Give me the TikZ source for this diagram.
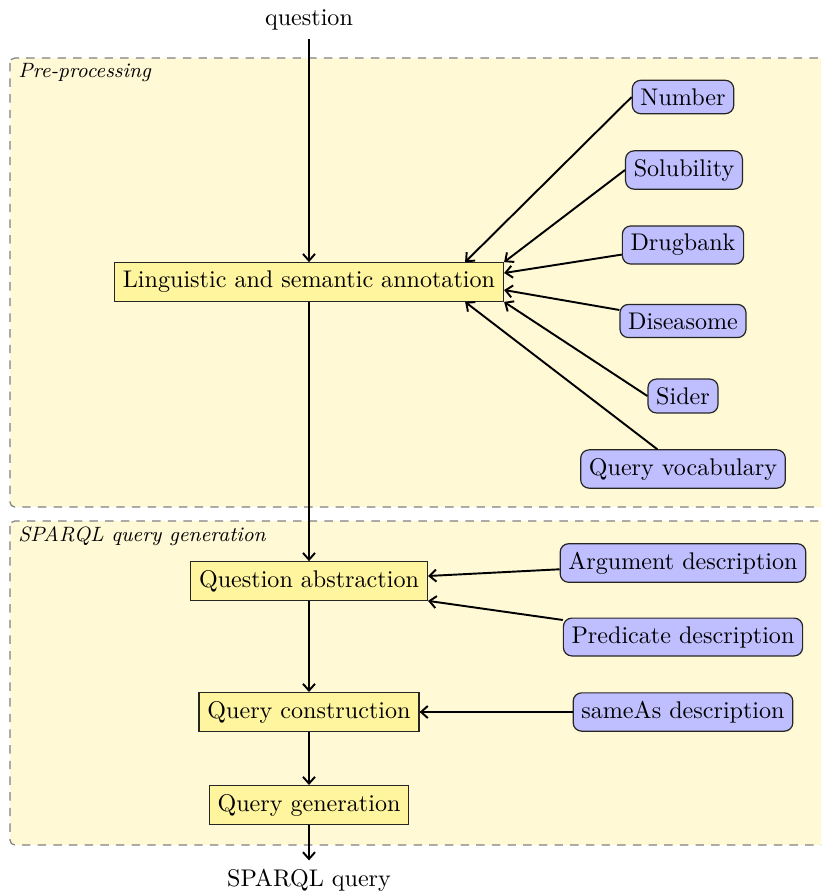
\documentclass[tikz,border=0pt]{standalone}
\usetikzlibrary{calc,arrows.meta}
\definecolor{bgyellow}{RGB}{255,249,214}
\definecolor{boxyellow}{RGB}{255,245,158}
\definecolor{boxblue}{RGB}{191,191,255}
\begin{document}
\begin{tikzpicture}[x=0.415pt,y=-0.415pt,
  proc/.style={draw=black!85, fill=boxyellow, inner sep=3.5pt, line width=0.5pt},
  res/.style={draw=black!85, fill=boxblue, rounded corners=3.5pt, inner sep=3.4pt, line width=0.5pt},
  group/.style={draw=gray, fill=bgyellow, dash pattern=on 3.5pt off 3pt, rounded corners=2pt, line width=0.5pt},
  grouplabel/.style={anchor=west, font=\fontsize{8.6}{10}\selectfont\itshape, inner sep=0pt},
  flow/.style={-{Straight Barb[length=2.8pt,width=5pt]}, thick}]
\useasboundingbox (0,0) rectangle (821,894);
\begin{scope}
  \clip (0,0) rectangle (821,894);
  \path[group] (10,58) rectangle (840,507);
  \path[group] (10,521) rectangle (840,845);
\end{scope}
\node[grouplabel] (lpre) at (18,73) {Pre-processing};
\node[grouplabel] (lsparql) at (18,536) {SPARQL query generation};

\node (question) at (309,20) {question};
\node[proc] (ling) at (309,282) {Linguistic and semantic annotation};
\node[proc] (qa) at (309,581) {Question abstraction};
\node[proc] (qc) at (309,712) {Query construction};
\node[proc] (qg) at (309,805) {Query generation};
\node (sparql) at (309,880) {SPARQL query};

\node[res] (number) at (683,97) {Number};
\node[res] (solub) at (684,170) {Solubility};
\node[res] (drug) at (683,245) {Drugbank};
\node[res] (dis) at (683,321) {Diseasome};
\node[res] (sider) at (683,396) {Sider};
\node[res] (vocab) at (683,469) {Query vocabulary};
\node[res] (arg) at (683,563) {Argument description};
\node[res] (pred) at (683,637) {Predicate description};
\node[res] (same) at (683,712) {sameAs description};

\draw[flow] (question) -- (ling);
\draw[flow] (ling) -- (qa);
\draw[flow] (qa) -- (qc);
\draw[flow] (qc) -- (qg);
\draw[flow] (qg) -- (sparql);

\draw[flow] (number.west) -- ($(ling.north east)+(-39,0)$);
\draw[flow] (solub.west) -- (ling.north east);
\draw[flow] (drug) -- ($(ling.east)+(0,-9)$);
\draw[flow] (dis) -- ($(ling.east)+(0,8)$);
\draw[flow] (sider.west) -- (ling.south east);
\draw[flow] (vocab) -- ($(ling.south east)+(-39,0)$);

\draw[flow] (arg) -- ($(qa.east)+(0,-5)$);
\draw[flow] (pred) -- (qa.south east);
\draw[flow] (same) -- (qc);
\end{tikzpicture}
\end{document}
